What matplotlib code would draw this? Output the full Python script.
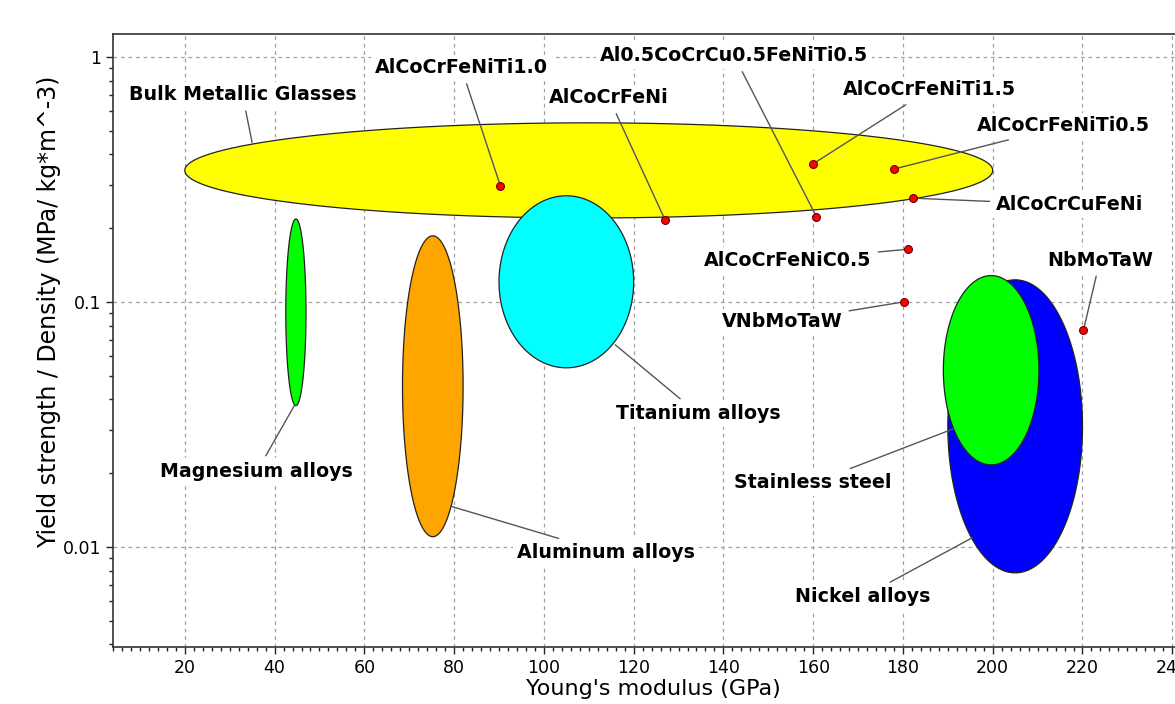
import numpy as np
import matplotlib
matplotlib.use("Agg")
import matplotlib.pyplot as plt
from matplotlib.ticker import MultipleLocator, LogLocator, NullFormatter, FixedLocator, FixedFormatter

# ---------------- data ----------------
# material families: ranges of Young's modulus (GPa) and specific strength
region_names = ["Bulk Metallic Glasses", "Magnesium alloys", "Aluminum alloys",
                "Titanium alloys", "Nickel alloys", "Stainless steel"]
region_E_min = [20.0, 42.5, 68.5, 90.0, 190.0, 189.0]
region_E_max = [200.0, 47.0, 82.0, 120.0, 220.0, 210.3]
region_s_min = [0.220, 0.0377, 0.0110, 0.0538, 0.00783, 0.0216]
region_s_max = [0.538, 0.218, 0.186, 0.271, 0.123, 0.128]
region_colors = ["#ffff00", "#00ff00", "#ffa500", "#00ffff", "#0000ff", "#00ff00"]
# label anchor (on the region edge) and label position
region_tip_E = [35.0, 44.5, 79.5, 115.9, 195.4, 191.2]
region_tip_s = [0.447, 0.038, 0.0146, 0.0668, 0.01088, 0.0303]
region_lab_E = [32.85, 36.05, 113.8, 134.4, 171.1, 160.0]
region_lab_s = [0.6995, 0.0203, 0.00948, 0.0349, 0.00625, 0.01825]

# high entropy alloys (points)
alloy_names = ["AlCoCrFeNiTi1.0", "AlCoCrFeNi", "Al0.5CoCrCu0.5FeNiTi0.5",
               "AlCoCrFeNiTi1.5", "AlCoCrFeNiTi0.5", "AlCoCrCuFeNi",
               "AlCoCrFeNiC0.5", "VNbMoTaW", "NbMoTaW"]
alloy_E = [90.3, 127.0, 160.7, 159.9, 177.9, 182.3, 181.2, 180.2, 220.2]
alloy_s = [0.298, 0.216, 0.223, 0.365, 0.348, 0.265, 0.164, 0.100, 0.0764]
alloy_lab_E = [81.6, 114.5, 142.4, 185.8, 215.7, 217.2, 154.4, 153.1, 223.9]
alloy_lab_s = [0.902, 0.680, 1.009, 0.733, 0.523, 0.249, 0.148, 0.0829, 0.148]

x_ticks = [20, 40, 60, 80, 100, 120, 140, 160, 180, 200, 220, 240]
y_ticks = [0.01, 0.1, 1]
y_tick_labels = ["0.01", "0.1", "1"]

# ---------------- figure ----------------
W, H = 1175, 704
fig = plt.figure(figsize=(W / 100, H / 100), dpi=100)
ax = fig.add_axes([113 / W, 57 / H, (1194.7 - 113) / W, 613 / H])
ax.set_yscale("log")
ax.set_xlim(4, 245)
ax.set_ylim(0.0039, 1.24)

# grid
ax.set_axisbelow(True)
ax.grid(True, which="major", linestyle=(0, (3, 3)), color="#a0a0a0", linewidth=0.9)

# regions as ellipses (ellipse in x / log10(y) space)
t = np.linspace(0, 2 * np.pi, 400)
for i in range(len(region_names)):
    cx = (region_E_min[i] + region_E_max[i]) / 2
    a = (region_E_max[i] - region_E_min[i]) / 2
    l0, l1 = np.log10(region_s_min[i]), np.log10(region_s_max[i])
    lc, b = (l0 + l1) / 2, (l1 - l0) / 2
    xs = cx + a * np.cos(t)
    ys = 10 ** (lc + b * np.sin(t))
    ax.fill(xs, ys, facecolor=region_colors[i], edgecolor="#222222", linewidth=0.9, zorder=2 + i * 0.01)

lab_font = dict(fontsize=13.7, fontweight="bold", color="black", ha="center", va="center")
bbox = dict(boxstyle="square,pad=0.2", fc="white", ec="none")
arrow = dict(arrowstyle="-", color="#555555", lw=1.0, shrinkA=2, shrinkB=0)

for i, name in enumerate(region_names):
    ax.annotate(name, xy=(region_tip_E[i], region_tip_s[i]),
                xytext=(region_lab_E[i], region_lab_s[i]),
                bbox=bbox, arrowprops=arrow, zorder=5, **lab_font)

for i, name in enumerate(alloy_names):
    ax.annotate(name, xy=(alloy_E[i], alloy_s[i]),
                xytext=(alloy_lab_E[i], alloy_lab_s[i]),
                bbox=bbox, arrowprops=arrow, zorder=5, **lab_font)

ax.scatter(alloy_E, alloy_s, s=32, c="#ff0000", edgecolors="#660000", linewidths=0.8, zorder=6)

# axes styling
ax.xaxis.set_major_locator(FixedLocator(x_ticks))
ax.xaxis.set_minor_locator(MultipleLocator(2))
ax.yaxis.set_major_locator(FixedLocator(y_ticks))
ax.yaxis.set_major_formatter(FixedFormatter(y_tick_labels))
ax.yaxis.set_minor_locator(LogLocator(base=10, subs=np.arange(2, 10)))
ax.yaxis.set_minor_formatter(NullFormatter())
ax.tick_params(which="major", direction="out", length=5, width=1, labelsize=12.5, colors="#222222", labelcolor="black")
ax.tick_params(which="minor", direction="out", length=3, width=1, colors="#222222")
for sp in ax.spines.values():
    sp.set_color("#333333")
    sp.set_linewidth(1.2)

ax.set_xlabel("Young's modulus (GPa)", fontsize=16)
ax.xaxis.set_label_coords(0.5, -0.052)
ax.xaxis.label.set_va("top")
ax.set_ylabel("Yield strength / Density (MPa/ kg*m^-3)", fontsize=17)
ax.yaxis.set_label_coords(-0.0595, 0.5465)
ax.yaxis.label.set_va("center")

fig.savefig("out.png", dpi=100)
